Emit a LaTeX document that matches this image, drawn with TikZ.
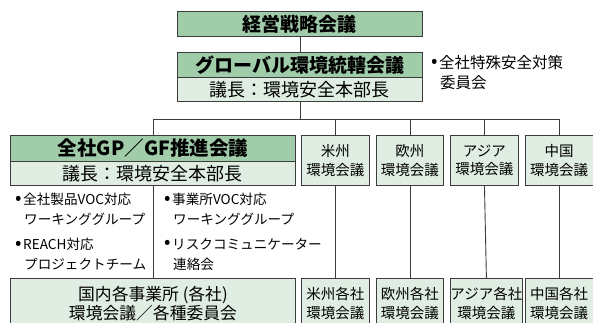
\documentclass[tikz,border=0pt]{standalone}
\usepackage{fontspec}
\setmainfont{Noto Sans CJK JP}
\definecolor{dkg}{HTML}{A0CCAA}
\definecolor{ltg}{HTML}{E0EDE2}
\definecolor{bd}{HTML}{3C3C3C}
\newcommand{\bul}{\makebox[8pt][l]{\raisebox{0.5pt}{\fontsize{19}{19}\selectfont •}}}
\newcommand{\nobul}{\hspace*{9pt}}
\tikzset{
  box/.style={draw=bd, line width=0.9pt, inner sep=0pt, anchor=north west, align=center},
  titlebox/.style={box, fill=dkg, font=\bfseries\fontsize{19}{19}\selectfont},
  chairbox/.style={box, fill=ltg, font=\fontsize{18}{18}\selectfont},
  regbox/.style={box, fill=ltg, minimum width=68, minimum height=50, font=\fontsize{14.5}{18.5}\selectfont},
  domboxst/.style={box, fill=ltg, minimum width=285, minimum height=50, font=\fontsize{16.8}{19}\selectfont},
  conn/.style={draw=bd, line width=0.9pt},
  item/.style={anchor=north west, align=left, inner sep=0pt, font=\fontsize{13.6}{20}\selectfont},
}
\begin{document}
\begin{tikzpicture}[x=1pt,y=-1pt]
\clip (0,0) rectangle (593,322);
\fill[white] (0,0) rectangle (593,322);
% top
\node[titlebox, minimum width=245, minimum height=25] (top) at (177,11) {経営戦略会議};
% global
\node[titlebox, minimum width=245, minimum height=25] (gtitle) at (177,52) {グローバル環境統轄会議};
\node[chairbox, minimum width=245, minimum height=24] (gchair) at (177,77) {議長：環境安全本部長};
\node[item, font=\fontsize{15.5}{20}\selectfont] (gnote) at (431,55) {\bul 全社特殊安全対策\\\nobul 委員会};
% GP
\node[titlebox, minimum width=285, minimum height=26, font=\bfseries\fontsize{19.5}{19.5}\selectfont] (gptitle) at (10,135) {全社GP／GF推進会議};
\node[chairbox, minimum width=285, minimum height=24] (gpchair) at (10,161) {議長：環境安全本部長};
% regional
\node[regbox] (r1) at (301,135) {米州\\環境会議};
\node[regbox, minimum width=67] (r2) at (376,135) {欧州\\環境会議};
\node[regbox] (r3) at (450,135) {アジア\\環境会議};
\node[regbox, minimum width=67.5] (r4) at (525,135) {中国\\環境会議};
% items
\node[item] (i1) at (15,193) {\bul 全社製品VOC対応\\\nobul ワーキンググループ};
\node[item] (i2) at (15,238) {\bul REACH対応\\\nobul プロジェクトチーム};
\node[item] (i3) at (164,193) {\bul 事業所VOC対応\\\nobul ワーキンググループ};
\node[item] (i4) at (164,238) {\bul リスクコミュニケーター\\\nobul 連絡会};
% bottom
\node[domboxst] (dom) at (10,278) {国内各事業所 (各社)\\環境会議／各種委員会};
\node[regbox] (b1) at (301,278) {米州各社\\環境会議};
\node[regbox, minimum width=67] (b2) at (376,278) {欧州各社\\環境会議};
\node[regbox] (b3) at (450,278) {アジア各社\\環境会議};
\node[regbox, minimum width=67.5] (b4) at (525,278) {中国各社\\環境会議};
% connectors
\coordinate (bus) at (0,119);
\draw[conn] (top.south) -- (gtitle.north);
\draw[conn] (gchair.south) -- (gchair.south |- bus);
\draw[conn] (gptitle.north) -- (gptitle.north |- bus) -| (r4.north);
\draw[conn] (r1.north) -- (r1.north |- bus);
\draw[conn] (r2.north) -- (r2.north |- bus);
\draw[conn] (r3.north) -- (r3.north |- bus);
\draw[conn] (gpchair.south) -- (dom.north);
\draw[conn] (r1.south) -- (b1.north);
\draw[conn] (r2.south) -- (b2.north);
\draw[conn] (r3.south) -- (b3.north);
\draw[conn] (r4.south) -- (b4.north);
\end{tikzpicture}
\end{document}
